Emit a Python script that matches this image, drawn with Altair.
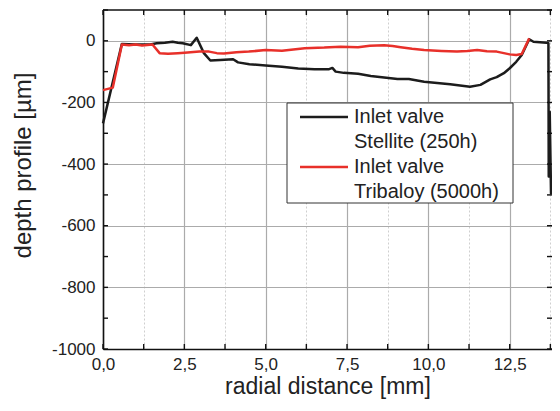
import altair as alt
import pandas as pd

# ---------------- data ----------------
stellite_x = [0.0, 0.58, 1.0, 1.45, 1.65, 1.9, 2.14, 2.3, 2.45, 2.7, 2.88, 3.1, 3.3, 3.6, 4.0,
              4.15, 4.5, 5.0, 5.5, 6.0, 6.5, 6.95, 7.05, 7.15, 7.4, 7.84, 8.23, 9.05, 9.4, 9.87,
              10.67, 11.28, 11.6, 11.9, 12.1, 12.32, 12.5, 12.7, 12.87, 13.1, 13.23, 13.63,
              13.69, 13.70, 13.73, 13.77, 13.80]
stellite_y = [-268, -10, -12, -12, -8, -6, -3, -6, -8, -14, 10, -40, -64, -62, -60,
              -70, -76, -80, -84, -90, -92, -92, -88, -100, -104, -107, -114, -124, -124, -133,
              -141, -149, -143, -125, -118, -105, -89, -68, -46, 5, -3, -6,
              -8, -440, -230, -495, -490]

tribaloy_x = [0.0, 0.3, 0.58, 0.8, 1.0, 1.2, 1.52, 1.74, 2.0, 2.3, 2.6, 2.96, 3.26, 3.5, 3.72,
              4.1, 4.48, 5.0, 5.5, 6.2, 6.8, 7.3, 7.84, 8.2, 8.64, 8.9, 9.15, 9.5, 9.87, 10.4,
              10.88, 11.2, 11.5, 11.8, 12.1, 12.5, 12.7, 12.87, 13.1]
tribaloy_y = [-160, -152, -12, -14, -12, -15, -12, -40, -42, -40, -38, -35, -35, -40, -41,
              -37, -35, -30, -32, -24, -22, -19, -21, -16, -14, -17, -21, -26, -30, -33,
              -35, -33, -30, -34, -35, -44, -46, -43, 8]

series_keys = ["Stellite", "Tribaloy"]
series_colors = ["#1c1c1c", "#e8302a"]
legend_texts = ["Inlet valve", "Stellite (250h)", "Inlet valve", "Tribaloy (5000h)"]

x_tick_values = [0, 1.25, 2.5, 3.75, 5, 6.25, 7.5, 8.75, 10, 11.25, 12.5, 13.75]
y_tick_values = [-1000, -900, -800, -700, -600, -500, -400, -300, -200, -100, 0, 100]
x_domain = [0, 13.80]
y_domain = [-1000, 100]

# ---------------- build tables ----------------
rows = []
for i, (xv, yv) in enumerate(zip(stellite_x, stellite_y)):
    rows.append({"x": xv, "y": yv, "s": series_keys[0], "i": i})
for i, (xv, yv) in enumerate(zip(tribaloy_x, tribaloy_y)):
    rows.append({"x": xv, "y": yv, "s": series_keys[1], "i": i})
df = pd.DataFrame(rows)

W, H = 449, 339
FONT = "Liberation Sans"

xscale = alt.Scale(domain=x_domain, nice=False, zero=False)
yscale = alt.Scale(domain=y_domain, nice=False, zero=False)

x_major = "datum.value % 2.5 === 0"
y_major = "datum.value % 200 === 0"

x_axis = alt.Axis(
    values=x_tick_values,
    labelExpr=f"{x_major} ? replace(format(datum.value, '.1f'), '.', ',') : ''",
    title="radial distance [mm]",
    grid=True,
    gridColor={"condition": {"test": x_major, "value": "#ababab"}, "value": "#cfcfcf"},
    gridDash={"condition": {"test": x_major, "value": [1, 0]}, "value": [2, 2]},
    gridWidth={"condition": {"test": x_major, "value": 1.2}, "value": 1},
    ticks=False, tickSize=0,
    domainColor="#111111", domainWidth=1.6,
    labelFont=FONT, labelFontSize=17, labelColor="#222222", labelPadding=7,
    labelFlush=False, labelOverlap=False,
    titleFont=FONT, titleFontSize=23, titleFontWeight="normal", titleColor="#222222",
    titlePadding=3,
)
y_axis = alt.Axis(
    values=y_tick_values,
    labelExpr=f"{y_major} ? toString(datum.value) : ''",
    title="depth profile [µm]",
    grid=True,
    gridColor={"condition": {"test": y_major, "value": "#ababab"}, "value": "#cfcfcf"},
    gridDash={"condition": {"test": y_major, "value": [1, 0]}, "value": [2, 2]},
    gridWidth={"condition": {"test": y_major, "value": 1.2}, "value": 1},
    ticks=False, tickSize=0,
    domainColor="#111111", domainWidth=1.6,
    labelFont=FONT, labelFontSize=17, labelColor="#222222", labelPadding=8,
    labelFlush=False, labelOverlap=False,
    titleFont=FONT, titleFontSize=24, titleFontWeight="normal", titleColor="#222222",
    titleX=-68, titleY=155, titleBaseline="bottom",
)

lines = alt.Chart(df).mark_line(strokeWidth=2.5, strokeJoin="round").encode(
    x=alt.X("x:Q", scale=xscale, axis=x_axis),
    y=alt.Y("y:Q", scale=yscale, axis=y_axis),
    color=alt.Color("s:N", scale=alt.Scale(domain=series_keys, range=series_colors), legend=None),
    order=alt.Order("i:Q"),
    detail="s:N",
)

# decoration layers share the scales; their axes are left implicit so the
# explicit axis of the line layer wins when Vega-Lite merges them
tick_style = dict(color="#111111", strokeWidth=1.4)
xt = pd.DataFrame({"x": x_tick_values})
yt = pd.DataFrame({"y": y_tick_values})
ticks = [
    alt.Chart(xt).mark_rule(**tick_style).encode(
        x=alt.X("x:Q", scale=xscale), y=alt.value(H), y2=alt.value(H - 5)),
    alt.Chart(xt).mark_rule(**tick_style).encode(
        x=alt.X("x:Q", scale=xscale), y=alt.value(0), y2=alt.value(5)),
    alt.Chart(yt).mark_rule(**tick_style).encode(
        y=alt.Y("y:Q", scale=yscale), x=alt.value(0), x2=alt.value(5)),
    alt.Chart(yt).mark_rule(**tick_style).encode(
        y=alt.Y("y:Q", scale=yscale), x=alt.value(W), x2=alt.value(W - 5)),
]

top_frame = alt.Chart(pd.DataFrame({"y": [y_domain[1]]})).mark_rule(
    color="#111111", strokeWidth=1.6).encode(y=alt.Y("y:Q", scale=yscale))

one = pd.DataFrame({"k": [0]})
legend_layers = [
    alt.Chart(one).mark_rect(fill="white", stroke="#333333", strokeWidth=1).encode(
        x=alt.value(184), x2=alt.value(410), y=alt.value(93), y2=alt.value(193)),
    alt.Chart(one).mark_rule(color=series_colors[0], strokeWidth=2.6).encode(
        x=alt.value(197), x2=alt.value(245), y=alt.value(107)),
    alt.Chart(one).mark_rule(color=series_colors[1], strokeWidth=2.6).encode(
        x=alt.value(197), x2=alt.value(245), y=alt.value(157)),
]
for txt, ypix in zip(legend_texts, [107, 132, 157, 182]):
    legend_layers.append(
        alt.Chart(one).mark_text(text=txt, font=FONT, fontSize=20, align="left",
                                 baseline="middle", color="#222222").encode(
            x=alt.value(251), y=alt.value(ypix)))

chart = alt.layer(
    lines, *ticks, top_frame, *legend_layers
).properties(
    width=W, height=H,
    background="white",
    autosize=alt.AutoSizeParams(type="none"),
    padding={"left": 95, "top": 2, "right": 0, "bottom": 50},
).configure_view(stroke=None)

chart.save("out.html", embed_options={"renderer": "svg", "actions": False})
